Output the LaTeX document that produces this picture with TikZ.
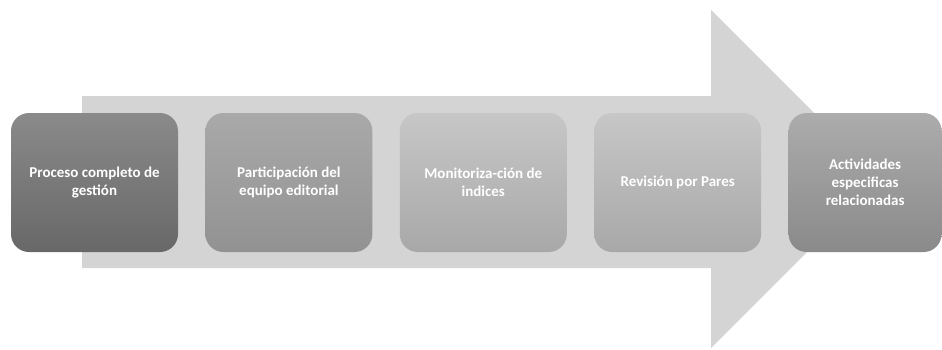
\documentclass[tikz,border=0pt]{standalone}
\usepackage{fontspec}
\setmainfont{Carlito}
\usepackage{tikz}
\usetikzlibrary{positioning}
\definecolor{ArrowGray}{HTML}{D4D4D4}
\definecolor{StepDarkTop}{HTML}{8A8A8A}
\definecolor{StepDarkBot}{HTML}{686868}
\definecolor{StepMidTop}{HTML}{A9A9A9}
\definecolor{StepMidBot}{HTML}{929292}
\definecolor{StepLightTop}{HTML}{C7C7C7}
\definecolor{StepLightBot}{HTML}{A8A8A8}
\definecolor{StepEndTop}{HTML}{ACACAC}
\definecolor{StepEndBot}{HTML}{8A8A8A}

\begin{document}
\begin{tikzpicture}[
  x=1pt,y=-1pt,
  stepbox/.style={shade,rounded corners=18pt,align=flush center,minimum width=167pt,minimum height=139pt,inner sep=0pt,text=white,font=\bfseries\fontsize{15}{18}\selectfont},
]
\useasboundingbox (0,0) rectangle (942,349);
% big arrow behind the steps
\fill[ArrowGray] (82,96) -- (711,96) -- (711,10) -- (880,179) -- (711,348) -- (711,268) -- (82,268) -- cycle;
\node[stepbox,top color=StepDarkTop,bottom color=StepDarkBot] (proc) at (94.5,182.5) {Proceso completo de\\gestión};
\node[stepbox,top color=StepMidTop,bottom color=StepMidBot,right=27pt of proc] (part) {Participación del\\equipo editorial};
\node[stepbox,top color=StepLightTop,bottom color=StepLightBot,right=27pt of part] (moni) {Monitoriza-ción de\\indices};
\node[stepbox,top color=StepLightTop,bottom color=StepLightBot,right=27pt of moni] (revi) {Revisión por Pares};
\node[stepbox,top color=StepEndTop,bottom color=StepEndBot,minimum width=153pt,right=27pt of revi] (acti) {Actividades\\especificas\\relacionadas};
\end{tikzpicture}
\end{document}
